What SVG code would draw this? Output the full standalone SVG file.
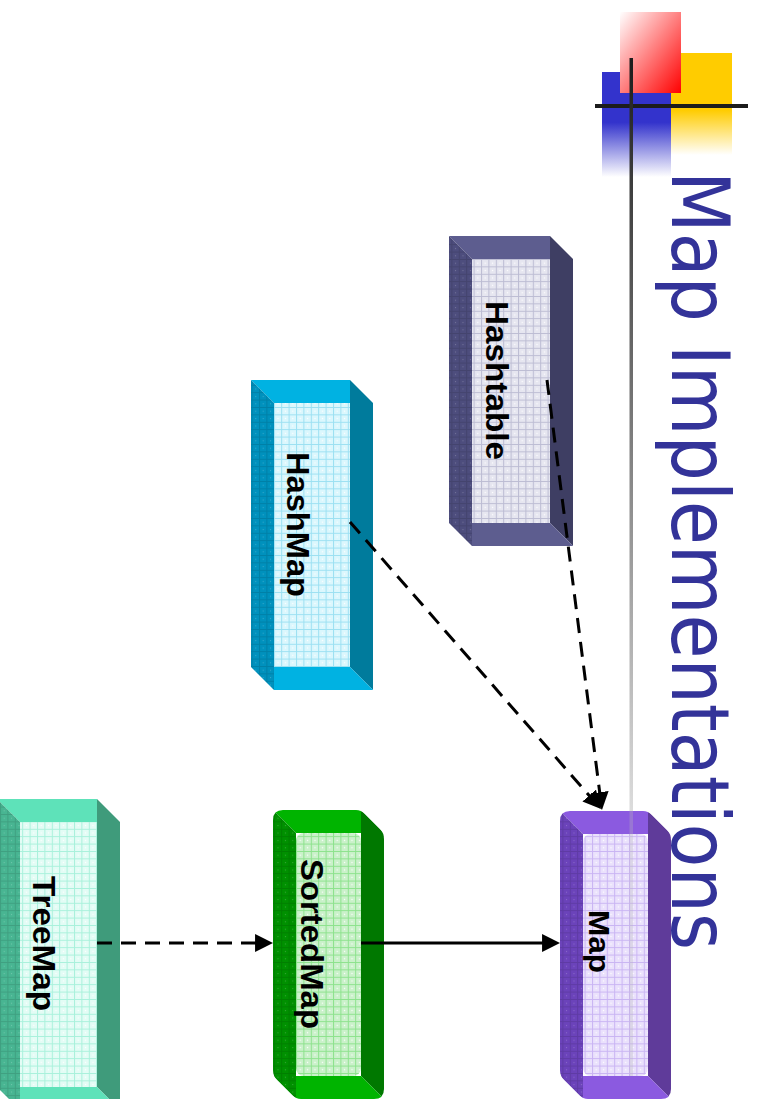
<svg xmlns="http://www.w3.org/2000/svg" width="757" height="1099" viewBox="0 0 757 1099">
  <defs>
    <style>
      .lbl { font-family: "Liberation Sans", Arial, sans-serif; font-weight: bold; font-size: 31px; fill: #000; }
      .title { font-family: "DejaVu Sans", "Liberation Sans", sans-serif; font-size: 80px; fill: #333399; }
      .dash { fill: none; stroke: #000; stroke-width: 3; stroke-dasharray: 15 9; marker-end: url(#arrow); }
      .solid { fill: none; stroke: #000; stroke-width: 3; marker-end: url(#arrow); }
    </style>

    <marker id="arrow" viewBox="0 0 10 10" refX="4.4" refY="5" markerWidth="18" markerHeight="18" markerUnits="userSpaceOnUse" orient="auto">
      <path d="M0,0 L10,5 L0,10 Z" fill="#000"/>
    </marker>

    <!-- logo fills -->
    <linearGradient id="blueFade" x1="0" y1="72" x2="0" y2="177" gradientUnits="userSpaceOnUse">
      <stop offset="0" stop-color="#3333cc"/>
      <stop offset="0.48" stop-color="#3333cc"/>
      <stop offset="1" stop-color="#3333cc" stop-opacity="0"/>
    </linearGradient>
    <linearGradient id="yellowFade" x1="0" y1="53" x2="0" y2="155" gradientUnits="userSpaceOnUse">
      <stop offset="0" stop-color="#ffcc00"/>
      <stop offset="0.56" stop-color="#ffcc00"/>
      <stop offset="1" stop-color="#ffcc00" stop-opacity="0"/>
    </linearGradient>
    <linearGradient id="redFade" x1="0" y1="0" x2="1" y2="1">
      <stop offset="0" stop-color="#ffffff"/>
      <stop offset="1" stop-color="#ff0000"/>
    </linearGradient>
    <linearGradient id="ruleFade" x1="0" y1="58" x2="0" y2="811" gradientUnits="userSpaceOnUse">
      <stop offset="0" stop-color="#1c1c1c"/>
      <stop offset="0.15" stop-color="#3a3a3a"/>
      <stop offset="1" stop-color="#dcdcdc"/>
    </linearGradient>

    <!-- front-face grids -->
    <pattern id="fHT" width="7.4" height="7.4" patternUnits="userSpaceOnUse">
      <rect width="7.4" height="7.4" fill="#e6e6f0"/>
      <path d="M0 0.5H7.4M0.5 0V7.4" stroke="#bcbcd3" stroke-width="1"/>
      <circle cx="4.2" cy="4.2" r="0.7" fill="#fff"/>
    </pattern>
    <pattern id="fHM" width="7.4" height="7.4" patternUnits="userSpaceOnUse">
      <rect width="7.4" height="7.4" fill="#dbf7fd"/>
      <path d="M0 0.5H7.4M0.5 0V7.4" stroke="#9be0f2" stroke-width="1"/>
      <circle cx="4.2" cy="4.2" r="0.7" fill="#fff"/>
    </pattern>
    <pattern id="fMP" width="7.4" height="7.4" patternUnits="userSpaceOnUse">
      <rect width="7.4" height="7.4" fill="#eae1fc"/>
      <path d="M0 0.5H7.4M0.5 0V7.4" stroke="#c9b4f3" stroke-width="1"/>
      <circle cx="4.2" cy="4.2" r="0.7" fill="#fff"/>
    </pattern>
    <pattern id="fSM" width="7.4" height="7.4" patternUnits="userSpaceOnUse">
      <rect width="7.4" height="7.4" fill="#caf1ca"/>
      <path d="M0 0.5H7.4M0.5 0V7.4" stroke="#8ce28c" stroke-width="1"/>
      <circle cx="4.2" cy="4.2" r="0.7" fill="#fff"/>
    </pattern>
    <pattern id="fTM" width="7.4" height="7.4" patternUnits="userSpaceOnUse">
      <rect width="7.4" height="7.4" fill="#e3fcf5"/>
      <path d="M0 0.5H7.4M0.5 0V7.4" stroke="#a8f1db" stroke-width="1"/>
      <circle cx="4.2" cy="4.2" r="0.7" fill="#fff"/>
    </pattern>

    <!-- side-face grid overlay -->
    <pattern id="sideGrid" width="7.4" height="7.4" patternUnits="userSpaceOnUse">
      <path d="M0 0.5H7.4M0.5 0V7.4" stroke="#000" stroke-opacity="0.12" stroke-width="1"/>
      <circle cx="4.2" cy="4.2" r="0.6" fill="#fff" fill-opacity="0.25"/>
    </pattern>

    <!-- rounded outlines -->
    <clipPath id="clipMap">
      <path d="M560,821 Q560,811 570,811 L643,811 Q648,811 652,815 L667,830 Q671,834 671,840 L671,1089 Q671,1099 661,1099 L588,1099 Q583,1099 579,1095 L564,1080 Q560,1076 560,1070 Z"/>
    </clipPath>
    <clipPath id="clipSorted">
      <path d="M273,820 Q273,810 283,810 L356,810 Q361,810 365,814 L380,829 Q384,833 384,839 L384,1089 Q384,1099 374,1099 L301,1099 Q296,1099 292,1095 L277,1080 Q273,1076 273,1070 Z"/>
    </clipPath>
  </defs>

  <rect width="757" height="1099" fill="#fff"/>

  <!-- corner emblem -->
  <g id="emblem">
    <rect x="602" y="72" width="69" height="105" fill="url(#blueFade)"/>
    <rect x="671" y="53" width="61" height="102" fill="url(#yellowFade)"/>
    <rect x="620" y="12" width="61" height="81" fill="url(#redFade)"/>
    <rect x="595" y="104" width="153" height="4" fill="#1c1c1c"/>
    <rect x="629.5" y="58" width="3.5" height="753" fill="url(#ruleFade)"/>
  </g>

  <text id="title" class="title" transform="translate(672,171) rotate(90)" textLength="779" lengthAdjust="spacingAndGlyphs">Map Implementations</text>

  <g id="hashtable">
    <polygon points="449,236 550,236 550,259 472,259" fill="#5d5d8f"/>
    <polygon points="449,236 472,259 472,546 449,523" fill="#4d4d7d"/>
    <polygon points="449,236 472,259 472,546 449,523" fill="url(#sideGrid)"/>
    <polygon points="550,236 573,259 573,546 550,523" fill="#3e3e63"/>
    <polygon points="472,523 550,523 573,546 472,546" fill="#5d5d8f"/>
    <rect x="472" y="259" width="78" height="264" fill="url(#fHT)"/>
    <text class="lbl" transform="translate(486,301) rotate(90)" textLength="159" lengthAdjust="spacingAndGlyphs">Hashtable</text>
  </g>

  <g id="hashmap">
    <polygon points="251,380 350,380 350,403 274,403" fill="#00b2e2"/>
    <polygon points="251,380 274,403 274,690 251,667" fill="#0091bd"/>
    <polygon points="251,380 274,403 274,690 251,667" fill="url(#sideGrid)"/>
    <polygon points="350,380 373,403 373,690 350,667" fill="#007b9c"/>
    <polygon points="274,667 350,667 373,690 274,690" fill="#00b2e2"/>
    <rect x="274" y="403" width="76" height="264" fill="url(#fHM)"/>
    <text class="lbl" transform="translate(287,452) rotate(90)" textLength="145" lengthAdjust="spacingAndGlyphs">HashMap</text>
  </g>

  <g id="map">
    <g clip-path="url(#clipMap)">
      <polygon points="560,811 648,811 648,834 583,834" fill="#8b5ae0"/>
      <polygon points="560,811 583,834 583,1099 560,1076" fill="#6b43ba"/>
      <polygon points="560,811 583,834 583,1099 560,1076" fill="url(#sideGrid)"/>
      <polygon points="648,811 671,834 671,1099 648,1076" fill="#5f3b9a"/>
      <polygon points="583,1076 648,1076 671,1099 583,1099" fill="#8b5ae0"/>
      <rect x="583" y="834" width="65" height="242" rx="8" fill="url(#fMP)"/>
    </g>
    <rect x="629.5" y="811" width="3.5" height="265" fill="#bbbbbb" fill-opacity="0.3"/>
    <text class="lbl" transform="translate(589,910) rotate(90)" style="font-size:30px" textLength="63" lengthAdjust="spacingAndGlyphs">Map</text>
  </g>

  <g id="sortedmap">
    <g clip-path="url(#clipSorted)">
      <polygon points="273,810 361,810 361,833 296,833" fill="#00b400"/>
      <polygon points="273,810 296,833 296,1099 273,1076" fill="#009000"/>
      <polygon points="273,810 296,833 296,1099 273,1076" fill="url(#sideGrid)"/>
      <polygon points="361,810 384,833 384,1099 361,1076" fill="#007800"/>
      <polygon points="296,1076 361,1076 384,1099 296,1099" fill="#00b400"/>
      <rect x="296" y="833" width="65" height="243" rx="8" fill="url(#fSM)"/>
    </g>
    <text class="lbl" transform="translate(301,859) rotate(90)" textLength="170" lengthAdjust="spacingAndGlyphs">SortedMap</text>
  </g>

  <g id="treemap">
    <polygon points="-3,799 97,799 97,822 20,822" fill="#5ee2b9"/>
    <polygon points="-3,799 20,822 20,1110 -3,1087" fill="#48b592"/>
    <polygon points="-3,799 20,822 20,1110 -3,1087" fill="url(#sideGrid)"/>
    <polygon points="97,799 120,822 120,1110 97,1087" fill="#3f9b7b"/>
    <polygon points="20,1087 97,1087 120,1110 20,1110" fill="#5ee2b9"/>
    <rect x="20" y="822" width="77" height="265" fill="url(#fTM)"/>
    <text class="lbl" transform="translate(33,876) rotate(90)" textLength="135" lengthAdjust="spacingAndGlyphs">TreeMap</text>
  </g>

  <g id="connectors">
    <path class="dash" d="M547,380 L600.7,800.1"/>
    <path class="dash" d="M350,522 L594.4,801.5"/>
    <path class="solid" d="M361,943 L550,943"/>
    <path class="dash" d="M97,943 L263,943"/>
  </g>
</svg>
